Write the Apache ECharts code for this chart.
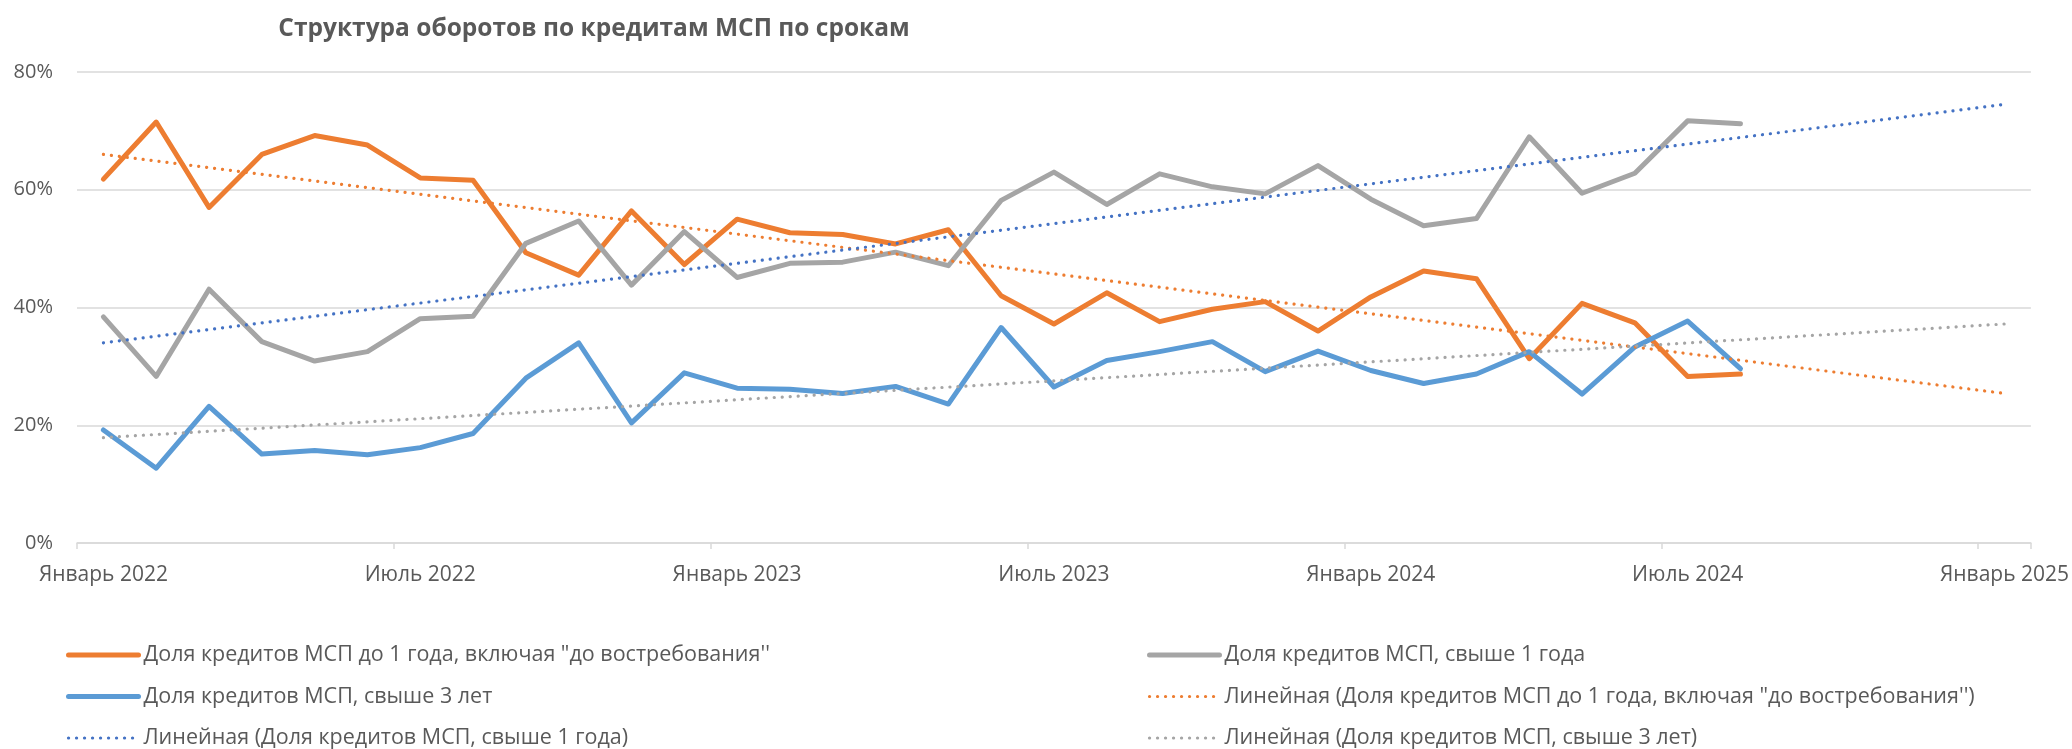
<!DOCTYPE html>
<html>
<head>
<meta charset="utf-8">
<script src="https://cdn.jsdelivr.net/npm/echarts@6/dist/echarts.min.js"></script>
<style>
html,body{margin:0;padding:0;background:#fff;}
#chart{width:2072px;height:749px;}
</style>
</head>
<body>
<div id="chart"></div>
<script>
// Categories: monthly, Jan 2022 .. Jan 2025
var categories = [
  "Январь 2022","Февраль 2022","Март 2022","Апрель 2022","Май 2022","Июнь 2022",
  "Июль 2022","Август 2022","Сентябрь 2022","Октябрь 2022","Ноябрь 2022","Декабрь 2022",
  "Январь 2023","Февраль 2023","Март 2023","Апрель 2023","Май 2023","Июнь 2023",
  "Июль 2023","Август 2023","Сентябрь 2023","Октябрь 2023","Ноябрь 2023","Декабрь 2023",
  "Январь 2024","Февраль 2024","Март 2024","Апрель 2024","Май 2024","Июнь 2024",
  "Июль 2024","Август 2024","Сентябрь 2024","Октябрь 2024","Ноябрь 2024","Декабрь 2024",
  "Январь 2025"
];

// Series values (%)
var shortTerm = [61.8,71.5,57.0,66.0,69.2,67.6,62.0,61.6,49.3,45.5,56.4,47.3,
                 55.0,52.7,52.4,50.8,53.2,42.0,37.2,42.5,37.6,39.7,41.0,36.0,
                 41.8,46.2,44.9,31.3,40.7,37.4,28.3,28.7];
var over1Year = [38.4,28.3,43.1,34.2,30.9,32.5,38.1,38.5,50.9,54.7,43.8,52.9,
                 45.1,47.5,47.7,49.4,47.1,58.2,63.0,57.5,62.7,60.5,59.3,64.1,
                 58.4,53.9,55.1,69.0,59.4,62.8,71.7,71.2];
var over3Years = [19.2,12.7,23.2,15.1,15.7,15.0,16.2,18.6,28.0,34.0,20.4,28.9,
                  26.3,26.1,25.4,26.6,23.6,36.6,26.5,31.0,32.5,34.2,29.1,32.6,
                  29.3,27.1,28.7,32.5,25.3,33.3,37.7,29.6];

// Linear trend lines: values at first and last category
var trendShortTerm = [66.0, 25.4];
var trendOver1Year = [34.0, 74.5];
var trendOver3Years = [17.9, 37.2];

// Y-axis ticks
var yTicks = [0, 20, 40, 60, 80];

var names = {
  s: 'Доля кредитов МСП до 1 года, включая "до востребования\'\'',
  o1: 'Доля кредитов МСП, свыше 1 года',
  o3: 'Доля кредитов МСП, свыше 3 лет',
  ts: 'Линейная (Доля кредитов МСП до 1 года, включая "до востребования\'\')',
  to1: 'Линейная (Доля кредитов МСП, свыше 1 года)',
  to3: 'Линейная (Доля кредитов МСП, свыше 3 лет)'
};

function trendData(t) {
  return [[categories[0], t[0]], [categories[categories.length - 1], t[1]]];
}

var FONT = '"Open Sans", "Noto Sans", sans-serif';
var TXT = '#595959';

function solid(name, data, color) {
  return {
    name: name, type: 'line', data: data, showSymbol: false, symbol: 'none',
    lineStyle: { color: color, width: 5, cap: 'round', join: 'round' },
    itemStyle: { color: color },
    emphasis: { disabled: true }, animation: false, z: 2
  };
}
function dotted(name, data, color) {
  return {
    name: name, type: 'line', data: data, showSymbol: false, symbol: 'none',
    lineStyle: { color: color, width: 3.2, type: [0.1, 7.9], cap: 'round' },
    itemStyle: { color: color },
    emphasis: { disabled: true }, animation: false, z: 3
  };
}

var chart = echarts.init(document.getElementById('chart'), null, { renderer: 'canvas' });

var legendCommon = {
  orient: 'vertical', itemWidth: 70, itemHeight: 14, itemGap: 13.5,
  height: 200, padding: 0,
  textStyle: { fontFamily: FONT, fontSize: 21.5, color: TXT, lineHeight: 28 },
  itemStyle: { opacity: 0 },
  lineStyle: { width: 'inherit', type: 'inherit', cap: 'round' },
  selectedMode: false
};

chart.setOption({
  animation: false,
  title: {
    text: 'Структура оборотов по кредитам МСП по срокам',
    left: 589, top: 12, textAlign: 'center',
    textStyle: { fontFamily: FONT, fontSize: 24.5, fontWeight: 'bold', color: TXT }
  },
  grid: { left: 77, right: 40, top: 72, bottom: 206, containLabel: false },
  legend: [
    Object.assign({}, legendCommon, { left: 66, top: 641, data: [names.s, names.o3, names.to1] }),
    Object.assign({}, legendCommon, { left: 1147, top: 641, data: [names.o1, names.ts, names.to3] })
  ],
  xAxis: {
    type: 'category', data: categories, boundaryGap: true,
    axisLine: { lineStyle: { color: '#D9D9D9', width: 1.5 } },
    axisTick: { show: true, interval: 5, length: 6, lineStyle: { color: '#D9D9D9', width: 1.5 } },
    axisLabel: { interval: 5, fontFamily: FONT, fontSize: 21, color: TXT, margin: 22 },
    splitLine: { show: false }
  },
  yAxis: {
    type: 'value', min: yTicks[0], max: yTicks[yTicks.length - 1], interval: 20,
    axisLine: { show: false }, axisTick: { show: false },
    axisLabel: { formatter: '{value}%', fontFamily: FONT, fontSize: 20, color: TXT, margin: 24 },
    splitLine: { lineStyle: { color: '#D9D9D9', width: 1.5 } }
  },
  series: [
    solid(names.s, shortTerm, '#ED7D31'),
    solid(names.o1, over1Year, '#A5A5A5'),
    solid(names.o3, over3Years, '#5B9BD5'),
    dotted(names.ts, trendData(trendShortTerm), '#ED7D31'),
    dotted(names.to1, trendData(trendOver1Year), '#4472C4'),
    dotted(names.to3, trendData(trendOver3Years), '#A5A5A5')
  ]
});
</script>
</body>
</html>
